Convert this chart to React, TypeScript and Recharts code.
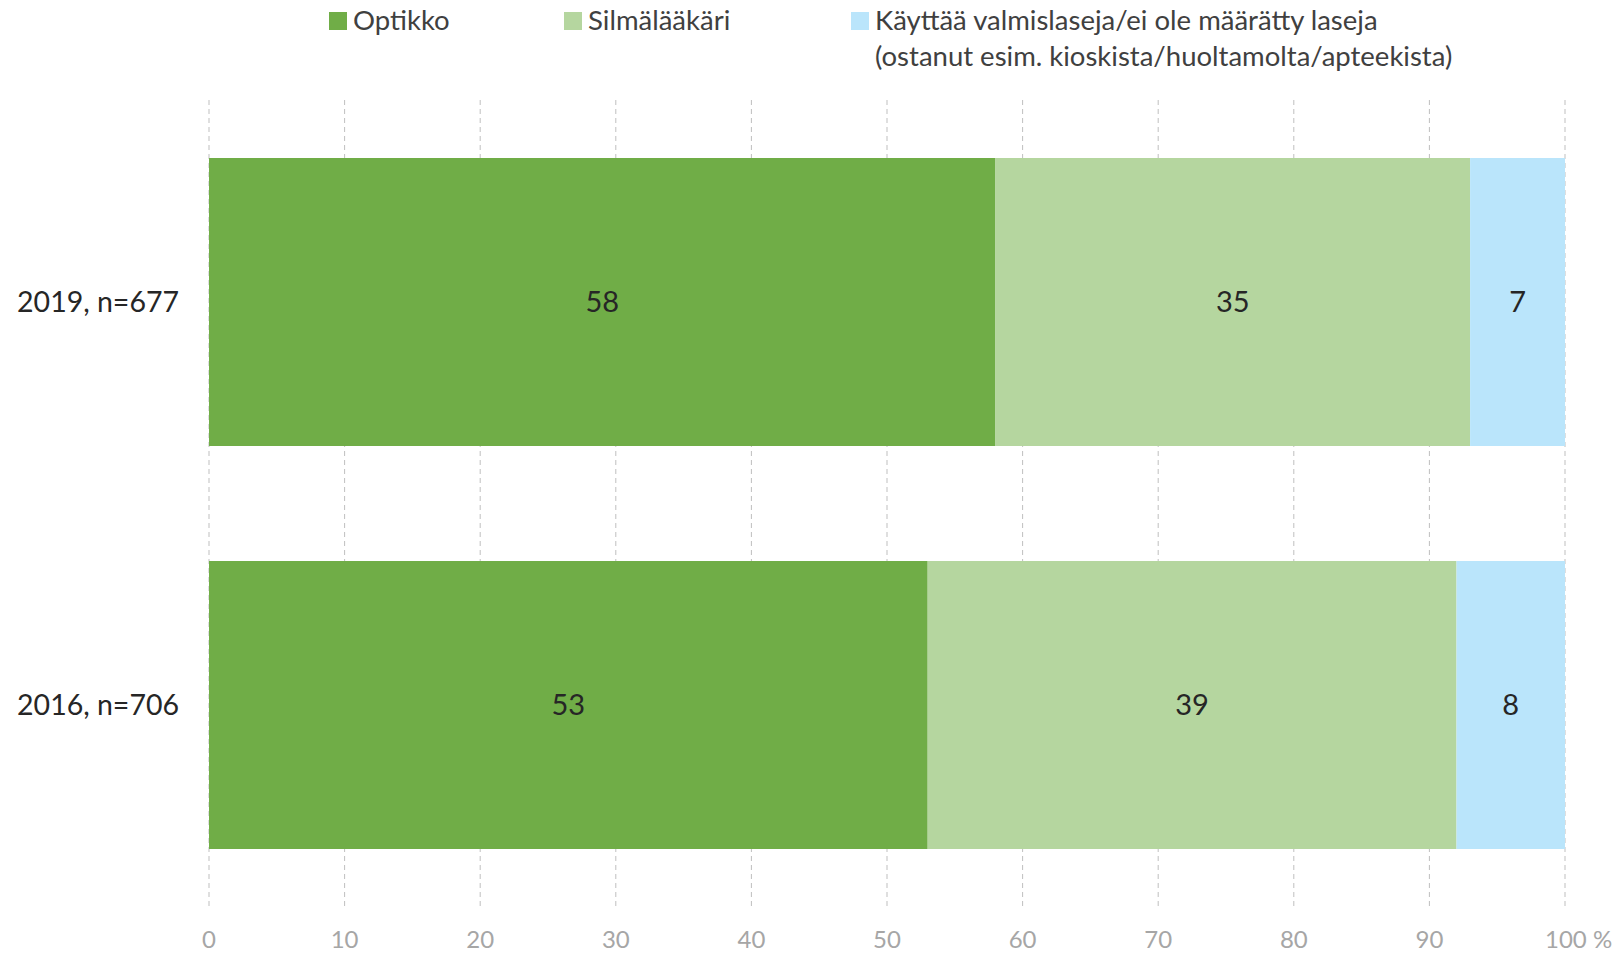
import { BarChart, Bar, XAxis, YAxis, CartesianGrid, LabelList, Legend } from "recharts"

const categories = ["2019, n=677", "2016, n=706"]
const optikko = [58, 53]
const silmalaakari = [35, 39]
const valmislasit = [7, 8]
const ticks = [0, 10, 20, 30, 40, 50, 60, 70, 80, 90, 100]

const seriesNames = ["Optikko", "Silmälääkäri", "Käyttää valmislaseja/ei ole määrätty laseja"]
const legendSecondLine = "(ostanut esim. kioskista/huoltamolta/apteekista)"

const COLORS = ["#70AD47", "#B5D69F", "#BAE5FB"]
const FONT = "Lato, 'Open Sans', sans-serif"

const data = categories.map((name, i) => ({
  name,
  optikko: optikko[i],
  silmalaakari: silmalaakari[i],
  valmislasit: valmislasit[i],
}))

const legendX = [329, 564, 851]

function ChartLegend() {
  return (
    <div style={{ position: "relative", width: 1616, height: 80, fontFamily: FONT, fontSize: 27.5, color: "#404040" }}>
      {seriesNames.map((s, i) => (
        <div key={s} style={{ position: "absolute", left: legendX[i], top: 2, display: "flex", alignItems: "flex-start" }}>
          <div style={{ width: 18, height: 18, background: COLORS[i], marginTop: 10, marginRight: 6 }} />
          <div style={{ lineHeight: "36px" }}>
            {s}
            {i === 2 && <br />}
            {i === 2 && legendSecondLine}
          </div>
        </div>
      ))}
    </div>
  )
}

function XTick(props: any) {
  const { x, y, payload } = props
  const isLast = payload.value === 100
  return (
    <text
      x={isLast ? x - 20 : x}
      y={y + 34}
      textAnchor={isLast ? "start" : "middle"}
      fill="#a6a6a6"
      fontSize={24}
      fontFamily={FONT}
    >
      {isLast ? "100 %" : payload.value}
    </text>
  )
}

export default function App() {
  return (
    <div style={{ position: "absolute", left: 0, top: 0, width: 1616, height: 954, background: "#fff" }}>
      <BarChart
        width={1616}
        height={954}
        data={data}
        layout="vertical"
        margin={{ top: 20, right: 51, bottom: 0, left: 0 }}
      >
        <CartesianGrid horizontal={false} stroke="#bfbfbf" strokeDasharray="5 4" />
        <XAxis
          type="number"
          domain={[0, 100]}
          ticks={ticks}
          axisLine={false}
          tickLine={false}
          tick={<XTick />}
          height={48}
        />
        <YAxis
          type="category"
          dataKey="name"
          width={209}
          axisLine={false}
          tickLine={false}
          tickSize={0}
          tickMargin={30}
          tick={{ fill: "#262626", fontSize: 28.5, fontFamily: FONT }}
        />
        <Legend verticalAlign="top" align="left" wrapperStyle={{ top: 0, left: 0 }} content={() => <ChartLegend />} />
        <Bar dataKey="optikko" stackId="a" fill={COLORS[0]} barSize={288} isAnimationActive={false}>
          <LabelList dataKey="optikko" position="center" fill="#262626" fontSize={29} fontFamily={FONT} />
        </Bar>
        <Bar dataKey="silmalaakari" stackId="a" fill={COLORS[1]} barSize={288} isAnimationActive={false}>
          <LabelList dataKey="silmalaakari" position="center" fill="#262626" fontSize={29} fontFamily={FONT} />
        </Bar>
        <Bar dataKey="valmislasit" stackId="a" fill={COLORS[2]} barSize={288} isAnimationActive={false}>
          <LabelList dataKey="valmislasit" position="center" fill="#262626" fontSize={29} fontFamily={FONT} />
        </Bar>
      </BarChart>
    </div>
  )
}
